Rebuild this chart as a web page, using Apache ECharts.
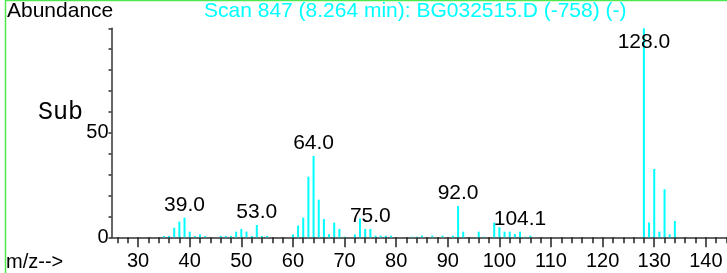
<!DOCTYPE html>
<html>
<head>
    <meta charset="utf-8" />
    <title>Scan 847</title>
    <script src="https://cdn.jsdelivr.net/npm/echarts@6/dist/echarts.min.js"></script>
    <style>
        html, body { margin: 0; padding: 0; background: #fff; }
        #container { width: 727px; height: 273px; }
    </style>
</head>
<body>
    <div id="container"></div>
    <script>
    // m/z 值与相对丰度
    var mzList = [35, 36, 37, 38, 39, 40, 41, 42, 43, 46, 47, 48, 49, 50, 51, 52, 53, 54, 55,
        60, 61, 62, 63, 64, 65, 66, 67, 68, 69, 70, 72, 73, 74, 75, 76, 77, 78, 79,
        83, 84, 85, 87, 89, 91, 92, 93, 96, 97, 99, 100, 101, 102, 103, 104, 105, 106,
        128, 129, 130, 131, 132, 133, 134];
    var abundList = [0.6, 0.6, 4.6, 7.5, 9.4, 2.7, 0.6, 1.4, 0.6, 0.7, 0.7, 0.7, 2.7, 4.0, 2.7, 0.6, 5.9, 0.7, 0.7,
        1.4, 5.7, 9.4, 29, 38.9, 18, 8.7, 1.5, 7.0, 4.0, 0.3, 1.4, 9.0, 4.0, 4.0, 0.8, 0.8, 0.8, 0.8,
        0.3, 0.3, 0.8, 0.8, 0.8, 0.8, 15, 2.7, 2.7, 0.3, 7.0, 4.8, 2.7, 2.7, 1.6, 2.7, 0.3, 0.8,
        100, 7.1, 32.7, 2.7, 23, 1.4, 7.8];
    // 标注的峰
    var peakMz = [39, 53, 64, 75, 92, 104, 128];
    var peakText = ['39.0', '53.0', '64.0', '75.0', '92.0', '104.1', '128.0'];
    // 刻度
    var minorTicks = [];
    for (var t = 26; t <= 144; t += 2) minorTicks.push(t);
    var majorTicks = [30, 40, 50, 60, 70, 80, 90, 100, 110, 120, 130, 140];

    var fontName = "'Liberation Sans', Arial, sans-serif";

    var seriesData = [];
    for (var i = 0; i < mzList.length; i++) {
        var item = { value: [mzList[i], abundList[i]] };
        var k = peakMz.indexOf(mzList[i]);
        if (k >= 0) {
            item.label = { show: true, formatter: peakText[k] };
            if (mzList[i] === 128) {
                item.label.position = 'insideTop';
                item.label.distance = 3;
            }
        }
        seriesData.push(item);
    }

    var dom = document.getElementById('container');
    var myChart = echarts.init(dom);
    var option = {
        backgroundColor: '#fff',
        animation: false,
        title: {
            text: 'Scan 847 (8.264 min): BG032515.D (-758) (-)',
            left: 204,
            top: 1,
            padding: 0,
            textStyle: { color: '#00ffff', fontSize: 21, fontWeight: 'normal', fontFamily: fontName }
        },
        grid: { left: 111.5, right: 0, top: 28.3, bottom: 35.7, containLabel: false },
        xAxis: [{
            type: 'value',
            min: 24.85,
            max: 144.1,
            position: 'bottom',
            splitLine: { show: false },
            axisLine: { show: true, onZero: false, lineStyle: { color: '#333', width: 1.5 } },
            axisTick: { show: true, length: 6, customValues: minorTicks, lineStyle: { color: '#222', width: 1.5 } },
            axisLabel: { show: false }
        }, {
            type: 'value',
            min: 24.85,
            max: 144.1,
            position: 'bottom',
            splitLine: { show: false },
            axisLine: { show: false, onZero: false },
            axisTick: { show: true, length: 10, customValues: majorTicks, lineStyle: { color: '#222', width: 1.5 } },
            axisLabel: {
                show: true, customValues: majorTicks, margin: 14,
                color: '#000', fontSize: 20, fontFamily: fontName
            }
        }],
        yAxis: {
            type: 'value',
            min: 0,
            max: 100,
            interval: 10,
            splitLine: { show: false },
            axisLine: { show: true, lineStyle: { color: '#333', width: 1.5 } },
            axisTick: { show: true, length: 3, lineStyle: { color: '#333', width: 1.5 } },
            axisLabel: {
                margin: 3, color: '#000', fontSize: 20, fontFamily: fontName,
                formatter: function (v) { return (v === 0 || v === 50) ? String(v) : ''; }
            }
        },
        graphic: [
            { type: 'line', shape: { x1: 5.5, y1: 0, x2: 5.5, y2: 273 }, style: { stroke: '#4de84d', lineWidth: 1.5 } },
            { type: 'line', shape: { x1: 5, y1: 0.5, x2: 727, y2: 0.5 }, style: { stroke: '#4de84d', lineWidth: 1.5 } },
            { type: 'text', left: 7, top: 1, style: { text: 'Abundance', fill: '#000', fontSize: 21, fontFamily: 'Liberation Sans' } },
            { type: 'text', left: 38, top: 100, style: { text: 'Sub', fill: '#000', fontSize: 25, fontFamily: 'Liberation Mono' } },
            { type: 'text', left: 6, top: 252, style: { text: 'm/z-->', fill: '#000', fontSize: 20, fontFamily: 'Liberation Sans' } }
        ],
        series: [{
            type: 'bar',
            xAxisIndex: 0,
            barWidth: 2,
            itemStyle: { color: '#00ffff' },
            label: {
                show: false, position: 'top', distance: 2,
                color: '#000', fontSize: 21, fontFamily: fontName
            },
            data: seriesData
        }]
    };
    myChart.setOption(option, true);
    </script>
</body>
</html>
